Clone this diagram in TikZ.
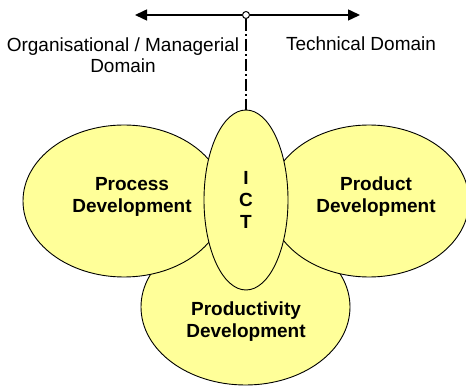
\documentclass[tikz,border=0pt]{standalone}
\usepackage{fontspec}
\setmainfont{Liberation Sans}
\usetikzlibrary{arrows.meta,shapes.geometric}
\definecolor{paleyellow}{RGB}{255,255,153}
\tikzset{
	blob/.style={ellipse, draw=black, line width=0.9pt, fill=paleyellow, inner sep=0pt},
	blobtext/.style={font=\fontsize{19}{22}\selectfont\bfseries, align=center},
	domtext/.style={font=\fontsize{19}{21}\selectfont, align=center},
	axis/.style={line width=1.5pt, -{Triangle[length=12pt,width=11pt]}},
	divider/.style={line width=1.5pt, dash pattern=on 12pt off 3pt on 2pt off 3pt}
}

\begin{document}
\begin{tikzpicture}[x=1pt, y=-1pt]
			%%%%% START %%%%%
			\useasboundingbox (0, 0) rectangle (466, 387);
			
			% axis between the two domains
			\coordinate (left) at (135, 15);
			\coordinate (right) at (360, 15);
			\node[circle, draw, line width=1pt, fill=white, inner sep=0pt, minimum size=7pt] (mid) at (246, 15) {};
			\draw[axis] (mid) -- (left);
			\draw[axis] (mid) -- (right);
			
			\node[domtext] (org) at (123, 55) {Organisational / Managerial\\Domain};
			\node[domtext] (tech) at (361, 44) {Technical Domain};
			
			% the four ellipses, back to front
			\node[blob, minimum width=209pt, minimum height=156pt] (prodty) at (245.5, 307) {};
			\node[blob, minimum width=202pt, minimum height=152pt] (proc) at (124, 201) {};
			\node[blob, minimum width=200pt, minimum height=152pt] (prod) at (369, 201) {};
			\node[blob, minimum width=84pt, minimum height=180pt, blobtext] (ict) at (246, 200) {I\\C\\T};
			
			\node[blobtext] at (132, 197) {Process\\Development};
			\node[blobtext] at (376, 197) {Product\\Development};
			\node[blobtext] at (246, 322) {Productivity\\Development};
			
			\draw[divider] (mid) -- (ict);
			%%%%% END %%%%%
		\end{tikzpicture}
\end{document}
